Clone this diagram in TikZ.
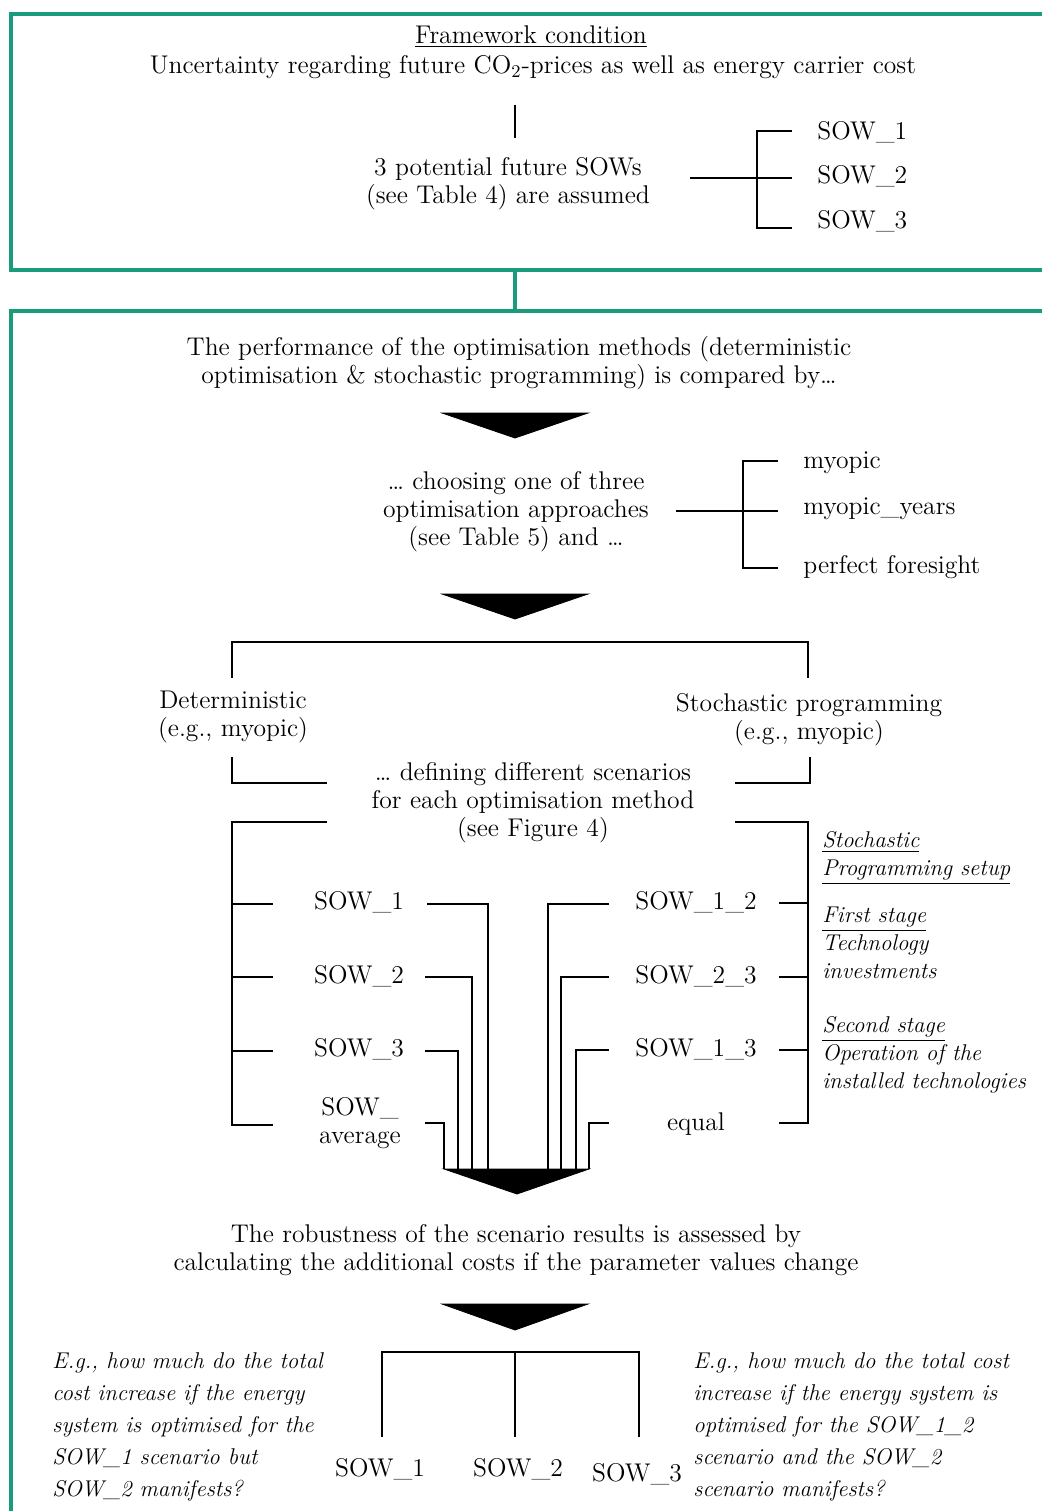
\documentclass[tikz,border=0pt]{standalone}
\definecolor{frame}{RGB}{26,155,123}
\tikzset{
  txt/.style={inner sep=0pt, align=center, font=\fontsize{12.8}{14}\selectfont},
  ltxt/.style={inner sep=0pt, align=left, anchor=west, font=\fontsize{12.8}{14}\selectfont},
  note/.style={inner sep=0pt, align=left, anchor=west, font=\fontsize{11.4}{14}\selectfont\itshape},
  eg/.style={inner sep=0pt, align=left, anchor=west, font=\fontsize{11.4}{16}\selectfont\itshape},
  greenbox/.style={draw=frame, line width=1.6pt},
  wire/.style={draw=black, line width=0.9pt},
  funnel/.style={fill=black, draw=black, line width=0.4pt, line join=miter}
}
\begin{document}
\begin{tikzpicture}[x=0.5pt, y=-0.5pt]
\useasboundingbox (0,0) rectangle (1042,1511);

% outer frames
\draw[greenbox] (1050,14) -- (11,14) -- (11,270) -- (1050,270);
\draw[greenbox] (1050,311) -- (11,311) -- (11,1530);
\coordinate (f1) at (515,270);
\coordinate (f2) at (515,311);
\draw[greenbox] (f1) -- (f2);

% framework condition
\node[txt] (fw) at (531,37) {\underline{Framework condition}};
\node[txt] (unc) at (533,67) {Uncertainty regarding future CO\textsubscript{2}-prices as well as energy carrier cost};
\coordinate (va) at (515,105);
\coordinate (vb) at (515,138);
\draw[wire] (va) -- (vb);
\node[txt] (pot) at (508,184) {3 potential future SOWs\\(see Table 4) are assumed};
\node[ltxt] (s1) at (817,132) {SOW\_1};
\node[ltxt] (s2) at (817,176) {SOW\_2};
\node[ltxt] (s3) at (817,221) {SOW\_3};
\coordinate (pa) at (690,178);
\coordinate (pb) at (792,178);
\draw[wire] (pa) -- (pb);
\draw[wire] (792,131) -- (757,131) -- (757,228) -- (792,228);

% methods comparison
\node[txt] (perf) at (519,363) {The performance of the optimisation methods (deterministic\\optimisation \& stochastic programming) is compared by\ldots};
\draw[funnel] (442,413) -- (588,413) -- (515,438) -- cycle;
\node[txt] (choose) at (516,512) {\ldots\ choosing one of three\\optimisation approaches\\(see Table 5) and \ldots};
\node[ltxt] (my) at (803,463) {myopic};
\node[ltxt] (myy) at (803,509) {myopic\_years};
\node[ltxt] (pf) at (803,567) {perfect foresight};
\coordinate (ca) at (676,511);
\coordinate (cb) at (778,511);
\draw[wire] (ca) -- (cb);
\draw[wire] (778,461) -- (743,461) -- (743,568) -- (778,568);
\draw[funnel] (442,594) -- (588,594) -- (515,619) -- cycle;

% the two methods
\draw[wire] (232,678) -- (232,642) -- (808,642) -- (808,678);
\node[txt] (det) at (233,717) {Deterministic\\(e.g., myopic)};
\node[txt] (sto) at (809,720) {Stochastic programming\\(e.g., myopic)};
\draw[wire] (232,757) -- (232,783) -- (327,783);
\draw[wire] (735,783) -- (810,783) -- (810,757);
\node[txt] (def) at (533,803) {\ldots\ defining different scenarios\\for each optimisation method\\(see Figure 4)};

% scenario brackets
\draw[wire] (327,822) -- (232,822) -- (232,1125) -- (273,1125);
\foreach \yy in {904,977,1051} \draw[wire] (232,\yy) -- (273,\yy);
\draw[wire] (735,822) -- (808,822) -- (808,1123) -- (779,1123);
\foreach \yy in {903,977,1050} \draw[wire] (808,\yy) -- (779,\yy);

\node[txt] (d1) at (359,902) {SOW\_1};
\node[txt] (d2) at (359,976) {SOW\_2};
\node[txt] (d3) at (359,1049) {SOW\_3};
\node[txt] (da) at (360,1123) {SOW\_\\average};
\node[txt] (p12) at (696,902) {SOW\_1\_2};
\node[txt] (p23) at (696,976) {SOW\_2\_3};
\node[txt] (p13) at (696,1049) {SOW\_1\_3};
\node[txt] (peq) at (696,1124) {equal};

% feeders into the lower funnel
\draw[wire] (427,904) -- (488,904) -- (488,1169);
\draw[wire] (425,977) -- (472,977) -- (472,1169);
\draw[wire] (425,1051) -- (458,1051) -- (458,1169);
\draw[wire] (425,1123) -- (444,1123) -- (444,1169);
\draw[wire] (609,904) -- (548,904) -- (548,1169);
\draw[wire] (609,977) -- (561,977) -- (561,1169);
\draw[wire] (609,1050) -- (576,1050) -- (576,1169);
\draw[wire] (609,1123) -- (589,1123) -- (589,1169);
\draw[funnel] (444,1169) -- (589,1169) -- (517,1194) -- cycle;

% stochastic programming notes
\node[note] (sp) at (822,858) {\underline{Stochastic}\\\underline{Programming setup}};
\node[note] (fs) at (822,943) {\underline{First stage}\\Technology\\investments};
\node[note] (ss) at (822,1055) {\underline{Second stage}\\Operation of the\\installed technologies};

% robustness
\node[txt] (rob) at (516,1250) {The robustness of the scenario results is assessed by\\calculating the additional costs if the parameter values change};
\draw[funnel] (442,1304) -- (588,1304) -- (515,1330) -- cycle;
\draw[wire] (382,1437) -- (382,1352) -- (639,1352) -- (639,1437);
\draw[wire] (515,1352) -- (515,1437);
\node[txt] (b1) at (380,1469) {SOW\_1};
\node[txt] (b2) at (518,1469) {SOW\_2};
\node[txt] (b3) at (637,1474) {SOW\_3};
\node[eg] (eg1) at (52,1427) {E.g., how much do the total\\cost increase if the energy\\system is optimised for the\\SOW\_1 scenario but\\SOW\_2 manifests?};
\node[eg] (eg2) at (693,1427) {E.g., how much do the total cost\\increase if the energy system is\\optimised for the SOW\_1\_2\\scenario and the SOW\_2\\scenario manifests?};
\end{tikzpicture}
\end{document}
